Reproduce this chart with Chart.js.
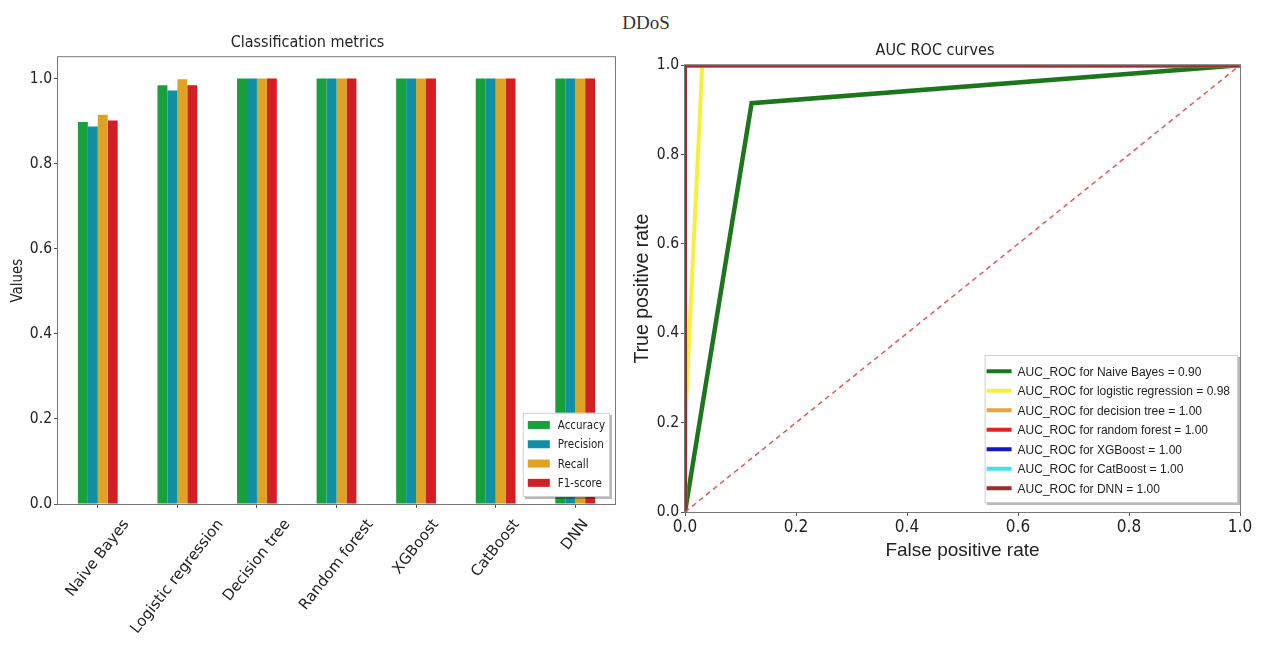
<!DOCTYPE html>
<html>
<head>
<meta charset="utf-8">
<title>DDoS</title>
<script src="https://cdn.jsdelivr.net/npm/chart.js@4.4.0/dist/chart.umd.min.js"></script>
<style>
  html, body { margin: 0; padding: 0; background: #fff; }
  body { width: 1263px; height: 649px; position: relative; overflow: hidden; }
  #suptitle {
    position: absolute; left: 596px; top: 12px; width: 100px; line-height: 22px;
    text-align: center; font: 19px 'Liberation Serif', 'DejaVu Serif', serif; color: #333;
  }
  .panel { position: absolute; top: 0; height: 649px; }
  #leftPanel { left: 0; width: 630px; }
  #rightPanel { left: 630px; width: 633px; }
</style>
</head>
<body>
<div id="suptitle">DDoS</div>
<div class="panel" id="leftPanel"><canvas id="metricsChart"></canvas></div>
<div class="panel" id="rightPanel"><canvas id="rocChart"></canvas></div>

<script>
// ---- data: classification metrics ----
const categories = ['Naive Bayes', 'Logistic regression', 'Decision tree', 'Random forest', 'XGBoost', 'CatBoost', 'DNN'];
const accuracy  = [0.898, 0.984, 1.0, 1.0, 1.0, 1.0, 1.0];
const precision = [0.887, 0.972, 1.0, 1.0, 1.0, 1.0, 1.0];
const recall    = [0.915, 0.998, 1.0, 1.0, 1.0, 1.0, 1.0];
const f1score   = [0.901, 0.984, 1.0, 1.0, 1.0, 1.0, 1.0];
const metricNames  = ['Accuracy', 'Precision', 'Recall', 'F1-score'];
const metricColors = ['#17a03c', '#1190a4', '#e0a224', '#d21f26'];
const valueTicks = [0, 0.2, 0.4, 0.6, 0.8, 1.0];

// ---- data: ROC curves ----
const rocNames  = ['Naive Bayes', 'logistic regression', 'decision tree', 'random forest', 'XGBoost', 'CatBoost', 'DNN'];
const rocAuc    = ['0.90', '0.98', '1.00', '1.00', '1.00', '1.00', '1.00'];
const rocFpr = [
  [0, 0.12, 1],
  [0, 0.002, 0.031, 1],
  [0, 0, 1],
  [0, 0, 1],
  [0, 0, 1],
  [0, 0, 1],
  [0, 0, 1]
];
const rocTpr = [
  [0, 0.915, 1],
  [0, 0.25, 1, 1],
  [0, 1, 1],
  [0, 1, 1],
  [0, 1, 1],
  [0, 1, 1],
  [0, 1, 1]
];
const rocColors = ['#1c761c', '#f6f03a', '#e8a33a', '#e32222', '#1616c8', '#3fe3ee', '#9b2d2d'];
const chanceFpr = [0, 1];
const chanceTpr = [0, 1];
const rateTicks = [0, 0.2, 0.4, 0.6, 0.8, 1.0];

const MPL = "'DejaVu Sans Condensed', 'DejaVu Sans', sans-serif";
const ARIAL = "'Liberation Sans', Arial, sans-serif";

Chart.defaults.animation = false;
Chart.defaults.color = '#222';

// axes box like matplotlib spines
const framePlugin = {
  id: 'frame',
  afterDatasetsDraw(chart, args, opts) {
    const { ctx, chartArea: a } = chart;
    ctx.save();
    ctx.strokeStyle = opts.color || '#777';
    ctx.lineWidth = 1;
    ctx.strokeRect(a.left - 0.5, a.top - 0.5, a.right - a.left + 1, a.bottom - a.top + 1);
    ctx.restore();
  }
};

// legend drawn inside the plot area, lower right
const boxLegend = {
  id: 'boxLegend',
  afterDraw(chart, args, o) {
    if (!o.labels) return;
    const { ctx, chartArea: a } = chart;
    ctx.save();
    ctx.font = o.font;
    const textW = Math.max(...o.labels.map(l => ctx.measureText(l).width));
    const w = o.textX + textW + o.padRight;
    const h = o.padTop + o.rowH * o.labels.length + o.padBottom;
    const x = a.right - o.marginRight - w;
    const y = a.bottom - o.marginBottom - h;
    ctx.fillStyle = 'rgba(0,0,0,0.28)';
    ctx.fillRect(x + 2, y + 2, w, h);
    ctx.fillStyle = '#fff';
    ctx.fillRect(x, y, w, h);
    ctx.strokeStyle = '#cfcfcf';
    ctx.lineWidth = 1;
    ctx.strokeRect(x + 0.5, y + 0.5, w - 1, h - 1);
    ctx.textBaseline = 'middle';
    ctx.textAlign = 'left';
    o.labels.forEach((lab, i) => {
      const cy = y + o.padTop + o.rowH * (i + 0.5);
      ctx.fillStyle = o.colors[i];
      ctx.fillRect(x + o.sampleX, cy - o.sampleH / 2, o.sampleW, o.sampleH);
      ctx.fillStyle = '#222';
      ctx.fillText(lab, x + o.textX, cy + 1);
    });
    ctx.restore();
  }
};

// rotated category labels, centred on their ticks
const slantLabels = {
  id: 'slantLabels',
  afterDraw(chart, args, o) {
    if (!o.size) return;
    const { ctx } = chart;
    const scale = chart.scales.x;
    const ang = o.angle * Math.PI / 180;
    ctx.save();
    ctx.font = o.size + 'px ' + o.family;
    ctx.fillStyle = '#222';
    ctx.textAlign = 'center';
    ctx.textBaseline = 'middle';
    chart.data.labels.forEach((lab, i) => {
      const x = scale.getPixelForTick(i);
      const w = ctx.measureText(lab).width;
      const bh = w * Math.sin(ang) + o.size * Math.cos(ang);
      const cy = chart.chartArea.bottom + o.offset + bh / 2;
      ctx.save();
      ctx.translate(x, cy);
      ctx.rotate(-ang);
      ctx.fillText(lab, 0, 0);
      ctx.restore();
    });
    ctx.restore();
  }
};

Chart.register(framePlugin, boxLegend, slantLabels);

const tickGrid = { drawOnChartArea: false, drawTicks: true, tickLength: 4, tickColor: '#555', color: '#555' };

// ---- left: grouped bars ----
const metricSeries = [accuracy, precision, recall, f1score];
new Chart(document.getElementById('metricsChart'), {
  type: 'bar',
  data: {
    labels: categories,
    datasets: metricNames.map((name, i) => ({
      label: name,
      data: metricSeries[i],
      backgroundColor: metricColors[i],
      borderWidth: 0,
      categoryPercentage: 0.5,
      barPercentage: 1.0
    }))
  },
  options: {
    responsive: true,
    maintainAspectRatio: false,
    layout: { padding: { left: 0, right: 15, top: 0, bottom: 0 } },
    plugins: {
      legend: { display: false },
      tooltip: { enabled: false },
      title: {
        display: true, text: 'Classification metrics', color: '#222',
        font: { family: MPL, size: 16, weight: 'normal' },
        padding: { top: 33, bottom: 5 }
      },
      frame: { color: '#777' },
      boxLegend: {
        labels: metricNames, colors: metricColors,
        font: '11.5px ' + MPL,
        rowH: 19.3, padTop: 2.5, padBottom: 4.5,
        sampleX: 5, sampleW: 22, sampleH: 8, textX: 35, padRight: 5,
        marginRight: 5, marginBottom: 7
      },
      slantLabels: { size: 15, family: "'DejaVu Sans', sans-serif", angle: 52, offset: 13 }
    },
    scales: {
      x: {
        offset: true,
        grid: Object.assign({}, tickGrid, { offset: false }),
        border: { display: false },
        ticks: { display: false },
        afterFit: s => { s.height = 145; }
      },
      y: {
        min: 0, max: 1.05,
        grid: tickGrid,
        border: { display: false },
        afterBuildTicks: s => { s.ticks = valueTicks.map(v => ({ value: v })); },
        ticks: {
          padding: 2, color: '#222',
          font: { family: MPL, size: 15.5 },
          callback: v => v.toFixed(1)
        },
        title: {
          display: true, text: 'Values', color: '#222',
          font: { family: MPL, size: 15 },
          padding: { top: 9, bottom: 0 }
        },
        afterFit: s => { s.width = 58; }
      }
    }
  }
});

// ---- right: ROC curves ----
const rocDatasets = rocNames.map((name, i) => ({
  label: 'AUC_ROC for ' + name + ' = ' + rocAuc[i],
  data: rocFpr[i].map((f, j) => ({ x: f, y: rocTpr[i][j] })),
  borderColor: rocColors[i],
  backgroundColor: rocColors[i],
  borderWidth: i === 0 ? 4.5 : 4,
  pointRadius: 0,
  tension: 0,
  fill: false,
  clip: 0,
  order: 20 - i
}));
rocDatasets.push({
  label: 'chance',
  data: chanceFpr.map((f, j) => ({ x: f, y: chanceTpr[j] })),
  borderColor: '#e05a5a',
  borderWidth: 1.5,
  borderDash: [5, 4],
  pointRadius: 0,
  fill: false,
  clip: 0,
  order: 0
});

new Chart(document.getElementById('rocChart'), {
  type: 'line',
  data: { datasets: rocDatasets },
  options: {
    responsive: true,
    maintainAspectRatio: false,
    layout: { padding: { left: 0, right: 23, top: 0, bottom: 0 } },
    plugins: {
      legend: { display: false },
      tooltip: { enabled: false },
      title: {
        display: true, text: 'AUC ROC curves', color: '#222',
        font: { family: MPL, size: 16, weight: 'normal' },
        padding: { top: 41, bottom: 5 }
      },
      frame: { color: '#777' },
      boxLegend: {
        labels: rocDatasets.slice(0, rocNames.length).map(d => d.label),
        colors: rocColors,
        font: '12px ' + ARIAL,
        rowH: 19.5, padTop: 6.5, padBottom: 5,
        sampleX: 2, sampleW: 25, sampleH: 4, textX: 33, padRight: 8,
        marginRight: 2, marginBottom: 9
      }
    },
    scales: {
      x: {
        type: 'linear', min: 0, max: 1,
        grid: tickGrid,
        border: { display: false },
        afterBuildTicks: s => { s.ticks = rateTicks.map(v => ({ value: v })); },
        ticks: {
          padding: 1, color: '#222', maxRotation: 0,
          font: { family: MPL, size: 17 },
          callback: v => v.toFixed(1)
        },
        title: {
          display: true, text: 'False positive rate', color: '#222',
          font: { family: ARIAL, size: 19 },
          padding: { top: 0, bottom: 87 }
        },
        afterFit: s => { s.height = 137; }
      },
      y: {
        type: 'linear', min: 0, max: 1,
        grid: tickGrid,
        border: { display: false },
        afterBuildTicks: s => { s.ticks = rateTicks.map(v => ({ value: v })); },
        ticks: {
          padding: 2, color: '#222',
          font: { family: MPL, size: 15.5 },
          callback: v => v.toFixed(1)
        },
        title: {
          display: true, text: 'True positive rate', color: '#222',
          font: { family: ARIAL, size: 19.5 },
          padding: { top: 1, bottom: 0 }
        },
        afterFit: s => { s.width = 55; }
      }
    }
  }
});
</script>
</body>
</html>
